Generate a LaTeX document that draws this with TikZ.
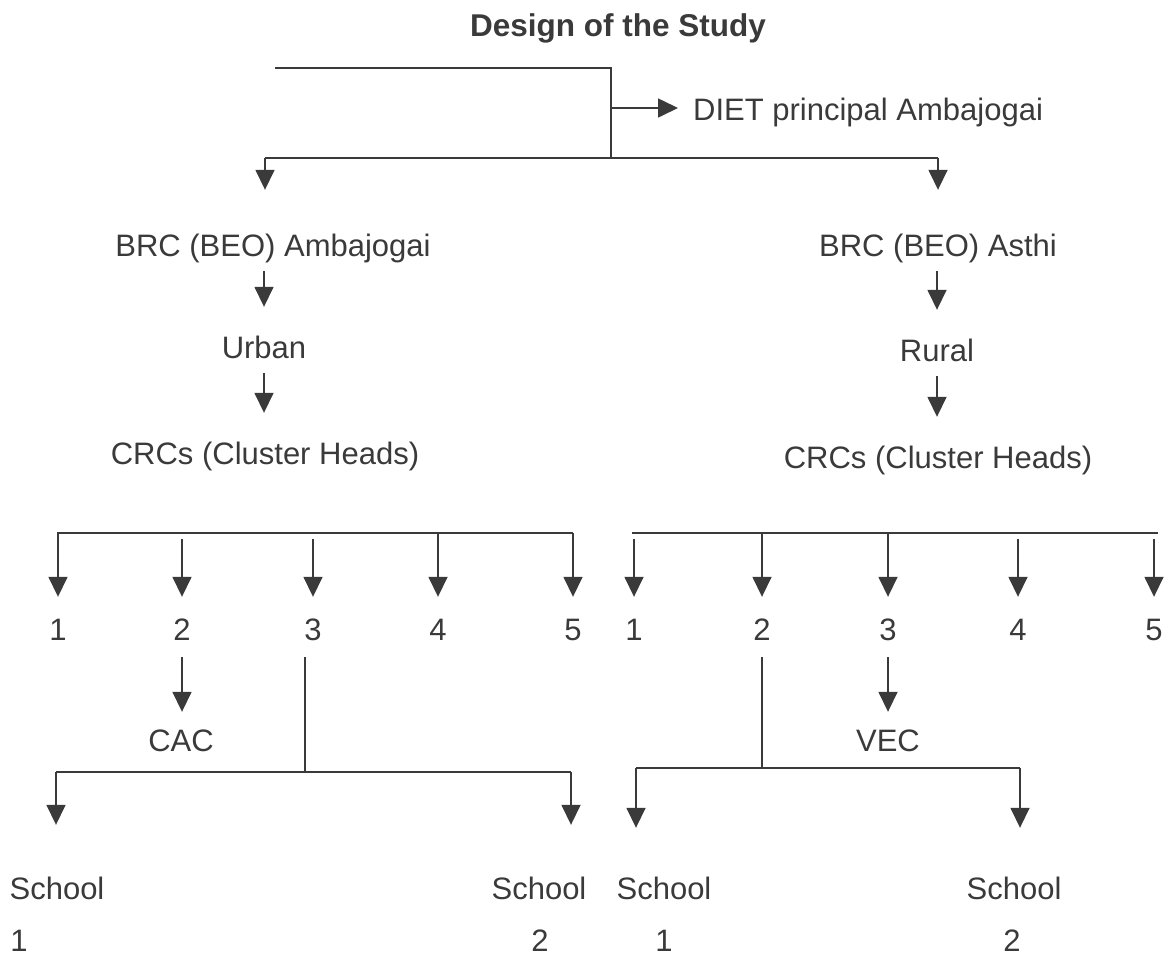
\documentclass[tikz,border=0pt]{standalone}
\usepackage{fontspec}
\setmainfont{Liberation Sans}
\usetikzlibrary{arrows.meta}
\definecolor{ink}{HTML}{3A3A3A}
\tikzset{
	txt/.style={font=\fontsize{31}{36}\selectfont, text=ink, inner sep=0pt, text height=22pt, text depth=6pt, anchor=base},
	ln/.style={draw=ink, line width=1.6pt},
	arr/.style={ln, -{Triangle[width=19pt,length=20pt]}},
	dnarr/.style={arr, shorten <=9pt, shorten >=29pt},
}

\begin{document}
\begin{tikzpicture}[x=1pt,y=-1pt]
	\useasboundingbox (0,0) rectangle (1175,962);
	
	%title
	\node[txt,font=\fontsize{31.5}{36}\selectfont\bfseries] (title) at (618,36) {Design of the Study};
	
	%top bracket
	\coordinate (t0) at (275,68);
	\coordinate (t1) at (611,68);
	\coordinate (t2) at (611,108);
	\coordinate (t3) at (611,158);
	\node[txt,anchor=base west] (diet) at (693,120) {DIET principal Ambajogai};
	\draw[ln] (t0) -- (t1) -- (t3);
	\draw[arr,shorten >=15pt] (t2) -- (t2 -| diet.west);
	
	\coordinate (hA) at (265,158);
	\coordinate (hB) at (938,158);
	\draw[ln] (hA) -- (hB);
	
	%blocks
	\node[txt] (brcA) at (273,256) {BRC (BEO) Ambajogai};
	\node[txt] (brcB) at (938,256) {BRC (BEO) Asthi};
	\draw[arr,shorten >=44pt] (hA) -- (hA |- brcA.north);
	\draw[arr,shorten >=44pt] (hB) -- (hB |- brcB.north);
	
	\node[txt] (urban) at (264,358) {Urban};
	\node[txt] (rural) at (937,361) {Rural};
	\node[txt] (crcA) at (265,464) {CRCs (Cluster Heads)};
	\node[txt] (crcB) at (938,468) {CRCs (Cluster Heads)};
	\draw[dnarr] (urban |- brcA.south) -- (urban.north);
	\draw[dnarr] (urban.south) -- (urban.south |- crcA.north);
	\draw[dnarr] (rural |- brcB.south) -- (rural.north);
	\draw[dnarr] (rural.south) -- (rural.south |- crcB.north);
	
	%clusters
	\coordinate (barA) at (57,533);
	\coordinate (barA2) at (573,533);
	\coordinate (barB) at (632,533);
	\coordinate (barB2) at (1158,533);
	\draw[ln] (barA) -- (barA2);
	\draw[ln] (barB) -- (barB2);
	\foreach \x/\n/\g in {58/1/0,182/2/6,313/3/6,438/4/0,573/5/0}{
		\node[txt] (nA\n) at (\x,640) {\n};
		\draw[arr,shorten <=\g pt,shorten >=21pt] (nA\n |- barA) -- (nA\n.north);
	}
	\foreach \x/\n/\g in {634/1/6,762/2/0,888/3/0,1018/4/6,1154/5/6}{
		\node[txt] (nB\n) at (\x,640) {\n};
		\draw[arr,shorten <=\g pt,shorten >=21pt] (nB\n |- barB) -- (nB\n.north);
	}
	
	%committees
	\node[txt] (cac) at (181,751) {CAC};
	\node[txt] (vec) at (888,751) {VEC};
	\draw[arr,shorten <=11pt,shorten >=17pt] (nA2.south) -- (nA2.south |- cac.north);
	\draw[arr,shorten <=11pt,shorten >=17pt] (nB3.south) -- (nB3.south |- vec.north);
	
	%schools
	\coordinate (jA) at (305,772);
	\coordinate (kA1) at (56,772);
	\coordinate (kA2) at (571,772);
	\coordinate (jB) at (762,768);
	\coordinate (kB1) at (636,768);
	\coordinate (kB2) at (1020,768);
	\draw[ln,shorten <=11pt] (jA |- nA3.south) -- (jA);
	\draw[ln,shorten <=11pt] (jB |- nB2.south) -- (jB);
	\draw[ln] (kA1) -- (kA2);
	\draw[ln] (kB1) -- (kB2);
	
	\node[txt] (sA1) at (57,899) {School};	\node[txt] (dA1) at (19,951) {1};
	\node[txt] (sA2) at (539,899) {School};	\node[txt] (dA2) at (540,951) {2};
	\node[txt] (sB1) at (664,899) {School};	\node[txt] (dB1) at (664,951) {1};
	\node[txt] (sB2) at (1014,899) {School};	\node[txt] (dB2) at (1012,951) {2};
	\draw[arr,shorten >=52pt] (kA1) -- (kA1 |- sA1.north);
	\draw[arr,shorten >=52pt] (kA2) -- (kA2 |- sA2.north);
	\draw[arr,shorten >=49pt] (kB1) -- (kB1 |- sB1.north);
	\draw[arr,shorten >=49pt] (kB2) -- (kB2 |- sB2.north);
\end{tikzpicture}
\end{document}
